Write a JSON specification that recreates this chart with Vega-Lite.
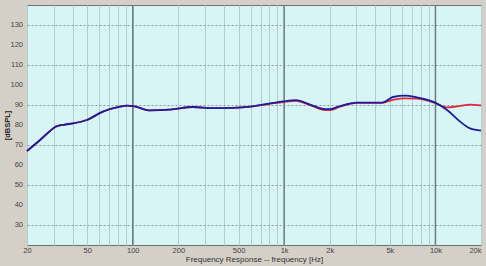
{
  "$schema": "https://vega.github.io/schema/vega-lite/v6.json",
  "width": 454,
  "height": 240,
  "autosize": {"type": "none"},
  "padding": {"left": 27, "top": 5, "right": 5, "bottom": 21},
  "background": "#d4d0c8",
  "config": {
    "view": {"fill": "#d8f5f6", "stroke": "#6a7272", "strokeWidth": 1},
    "font": "Liberation Sans",
    "axis": {"labelOverlap": false}
  },
  "datasets": {
    "curves": [
      {"f": 20, "db": 67, "s": "blue"},
      {"f": 24.4, "db": 72.5, "s": "blue"},
      {"f": 28.4, "db": 77, "s": "blue"},
      {"f": 31, "db": 79.2, "s": "blue"},
      {"f": 35.6, "db": 80.2, "s": "blue"},
      {"f": 40.3, "db": 80.8, "s": "blue"},
      {"f": 49.7, "db": 82.5, "s": "blue"},
      {"f": 63.5, "db": 86.7, "s": "blue"},
      {"f": 82.4, "db": 89.2, "s": "blue"},
      {"f": 91.5, "db": 89.7, "s": "blue"},
      {"f": 103, "db": 89.3, "s": "blue"},
      {"f": 130, "db": 87.3, "s": "blue"},
      {"f": 176, "db": 87.7, "s": "blue"},
      {"f": 250, "db": 89, "s": "blue"},
      {"f": 339, "db": 88.4, "s": "blue"},
      {"f": 460, "db": 88.6, "s": "blue"},
      {"f": 596, "db": 89.2, "s": "blue"},
      {"f": 808, "db": 90.8, "s": "blue"},
      {"f": 988, "db": 91.8, "s": "blue"},
      {"f": 1200, "db": 92.4, "s": "blue"},
      {"f": 1484, "db": 90.2, "s": "blue"},
      {"f": 1866, "db": 87.9, "s": "blue"},
      {"f": 2014, "db": 87.9, "s": "blue"},
      {"f": 2345, "db": 89.5, "s": "blue"},
      {"f": 3020, "db": 91.2, "s": "blue"},
      {"f": 4440, "db": 91.2, "s": "blue"},
      {"f": 5250, "db": 94, "s": "blue"},
      {"f": 6300, "db": 94.7, "s": "blue"},
      {"f": 7530, "db": 93.8, "s": "blue"},
      {"f": 9950, "db": 91.2, "s": "blue"},
      {"f": 11940, "db": 87.5, "s": "blue"},
      {"f": 14550, "db": 81.7, "s": "blue"},
      {"f": 16950, "db": 78.3, "s": "blue"},
      {"f": 20000, "db": 77.2, "s": "blue"},
      {"f": 20, "db": 67, "s": "red"},
      {"f": 24.4, "db": 72.5, "s": "red"},
      {"f": 28.4, "db": 77, "s": "red"},
      {"f": 31, "db": 79.2, "s": "red"},
      {"f": 35.6, "db": 80.2, "s": "red"},
      {"f": 40.3, "db": 80.8, "s": "red"},
      {"f": 49.7, "db": 82.5, "s": "red"},
      {"f": 63.5, "db": 86.7, "s": "red"},
      {"f": 82.4, "db": 89.2, "s": "red"},
      {"f": 91.5, "db": 89.7, "s": "red"},
      {"f": 103, "db": 89.3, "s": "red"},
      {"f": 130, "db": 87.3, "s": "red"},
      {"f": 176, "db": 87.7, "s": "red"},
      {"f": 250, "db": 89, "s": "red"},
      {"f": 339, "db": 88.4, "s": "red"},
      {"f": 460, "db": 88.6, "s": "red"},
      {"f": 596, "db": 89.2, "s": "red"},
      {"f": 808, "db": 90.6, "s": "red"},
      {"f": 988, "db": 91.5, "s": "red"},
      {"f": 1200, "db": 92.1, "s": "red"},
      {"f": 1484, "db": 89.9, "s": "red"},
      {"f": 1866, "db": 87.4, "s": "red"},
      {"f": 2014, "db": 87.4, "s": "red"},
      {"f": 2345, "db": 89.2, "s": "red"},
      {"f": 3020, "db": 91.1, "s": "red"},
      {"f": 4440, "db": 91.1, "s": "red"},
      {"f": 5250, "db": 92.6, "s": "red"},
      {"f": 6300, "db": 93.3, "s": "red"},
      {"f": 7530, "db": 93.2, "s": "red"},
      {"f": 9950, "db": 91, "s": "red"},
      {"f": 11940, "db": 88.8, "s": "red"},
      {"f": 13900, "db": 89.3, "s": "red"},
      {"f": 16950, "db": 90.2, "s": "red"},
      {"f": 20000, "db": 89.8, "s": "red"}
    ],
    "decades": [{"f": 100}, {"f": 1000}, {"f": 10000}],
    "ylabels": [{"v": 30}, {"v": 40}, {"v": 50}, {"v": 60}, {"v": 70}, {"v": 80}, {"v": 90}, {"v": 100}, {"v": 110}, {"v": 120}, {"v": 130}]
  },
  "layer": [
    {
      "data": {"name": "decades"},
      "mark": {"type": "rule", "color": "#6f7c7c", "strokeWidth": 1.5},
      "encoding": {
        "x": {
          "field": "f",
          "type": "quantitative",
          "scale": {"type": "log", "domain": [20, 20000], "nice": false},
          "axis": {
            "title": "Frequency Response -- frequency [Hz]",
            "titleFont": "Liberation Sans",
            "titleFontSize": 8,
            "titleFontWeight": "normal",
            "titleColor": "#333333",
            "titlePadding": 2,
            "values": [20, 30, 40, 50, 60, 70, 80, 90, 100, 200, 300, 400, 500, 600, 700, 800, 900, 1000, 2000, 3000, 4000, 5000, 6000, 7000, 8000, 9000, 10000, 20000],
            "labelExpr": "indexof([20,50,100,200,500,1000,2000,5000,10000,20000], datum.value) >= 0 ? (datum.value >= 1000 ? (datum.value/1000) + 'k' : '' + datum.value) : ''",
            "labelOverlap": false,
            "labelFlush": false,
            "labelAlign": {"condition": {"test": "datum.value >= 20000", "value": "right"}, "value": "center"},
            "labelFontSize": 7.5,
            "labelColor": "#444444",
            "labelPadding": 1,
            "ticks": false,
            "domain": false,
            "grid": true,
            "gridColor": "#b4cdd0",
            "gridWidth": 1
          }
        }
      }
    },
    {
      "data": {"name": "curves"},
      "transform": [{"filter": "datum.s === 'red'"}],
      "mark": {"type": "line", "color": "#e0283a", "strokeWidth": 1.8, "interpolate": "monotone"},
      "encoding": {
        "x": {"field": "f", "type": "quantitative", "scale": {"type": "log", "domain": [20, 20000], "nice": false}},
        "y": {
          "field": "db",
          "type": "quantitative",
          "scale": {"domain": [20, 140], "nice": false, "zero": false},
          "axis": {
            "title": "[dBSPL]",
            "titleFont": "Liberation Sans",
            "titleFontSize": 7.5,
            "titleFontWeight": "bold",
            "titleColor": "#222222",
            "titlePadding": 16,
            "values": [30, 40, 50, 60, 70, 80, 90, 100, 110, 120, 130],
            "labels": false,
            "ticks": false,
            "domain": false,
            "grid": true,
            "gridColor": "#8a9a9a",
            "gridDash": [2, 2],
            "gridWidth": 1
          }
        }
      }
    },
    {
      "data": {"name": "curves"},
      "transform": [{"filter": "datum.s === 'blue'"}],
      "mark": {"type": "line", "color": "#1c1c9c", "strokeWidth": 1.8, "interpolate": "monotone"},
      "encoding": {
        "x": {"field": "f", "type": "quantitative", "scale": {"type": "log", "domain": [20, 20000], "nice": false}},
        "y": {"field": "db", "type": "quantitative", "scale": {"domain": [20, 140], "nice": false, "zero": false}}
      }
    },
    {
      "data": {"name": "ylabels"},
      "mark": {"type": "text", "align": "right", "baseline": "middle", "dx": -4, "fontSize": 7.5, "color": "#444444", "font": "Liberation Sans"},
      "encoding": {
        "x": {"datum": 20, "type": "quantitative", "scale": {"type": "log", "domain": [20, 20000], "nice": false}},
        "y": {"field": "v", "type": "quantitative", "scale": {"domain": [20, 140], "nice": false, "zero": false}},
        "text": {"field": "v", "type": "quantitative"}
      }
    }
  ]
}
